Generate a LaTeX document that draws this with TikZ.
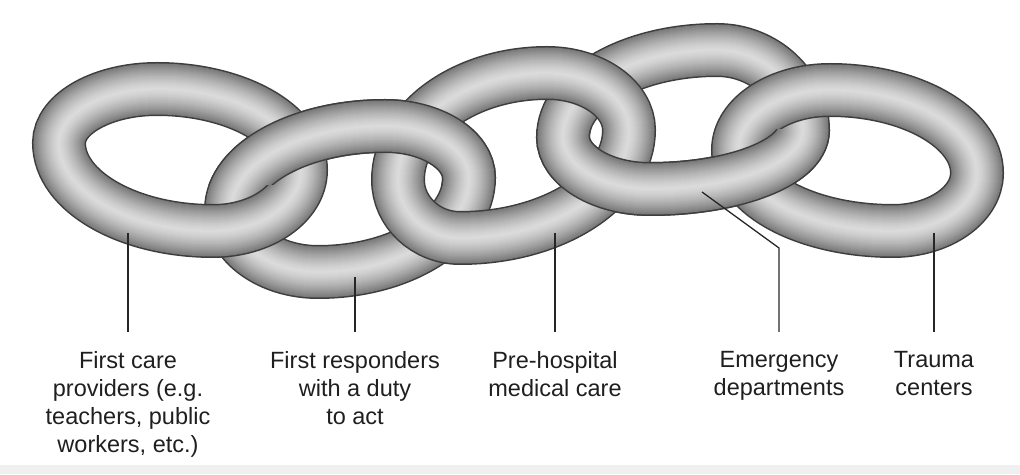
\documentclass[tikz,border=0pt]{standalone}
\usepackage{fontspec}
\setmainfont{Liberation Sans}
\usetikzlibrary{positioning}

% centre line of one link through its left, top, right and bottom points
\newcommand{\ringpath}[8]{%
  (#1,#2) .. controls (#1,{#2+0.55*(#4-#2)}) and ({#3-0.55*(#3-#1)},#4) .. (#3,#4)
  .. controls ({#3+0.55*(#5-#3)},#4) and (#5,{#6+0.55*(#4-#6)}) .. (#5,#6)
  .. controls (#5,{#6-0.55*(#6-#8)}) and ({#7+0.55*(#5-#7)},#8) .. (#7,#8)
  .. controls ({#7-0.55*(#7-#1)},#8) and (#1,{#2-0.55*(#2-#8)}) .. cycle}

% a link as a shaded tube
\newcommand{\drawring}[1]{%
  \draw[line width=54pt, black!76] #1;
  \foreach \w in {51,49,...,3}
    {\pgfmathsetmacro\tone{14+38*(\w/51)^1.4}
     \draw[line width=\w pt, black!\tone] #1;}}

\def\ringA{\ringpath{59}{331}{157}{385}{301}{304}{213}{243}}
\def\ringB{\ringpath{231}{264}{385}{348}{469}{296}{318}{202}}
\def\ringC{\ringpath{398}{294}{547}{401}{629}{344}{460}{236}}
\def\ringD{\ringpath{563}{337}{717}{424}{803}{344}{650}{285}}
\def\ringE{\ringpath{738}{324}{830}{384}{977}{301}{893}{243}}

\begin{document}
\begin{tikzpicture}[
        x=1pt, y=1pt,
        lbl/.style={
            anchor=north,
            inner sep=0pt,
            outer ysep=19pt,
            align=center,
            text=black!88,
            font=\fontsize{23.5pt}{28.3pt}\selectfont
        },
        pointer/.style={line width=1.3pt, black!85}
    ]
        \useasboundingbox (0,0) rectangle (1020,474);
        \fill[black!6] (0,0) rectangle (1020,9);

        % links 2 and 4 first, links 1, 3, 5 over them
        \drawring{\ringB}
        \drawring{\ringD}
        \drawring{\ringA}
        \drawring{\ringC}
        \drawring{\ringE}
        % parts of links 2 and 4 that pass in front
        \begin{scope}
            \clip (190,289) rectangle (510,414);
            \drawring{\ringB}
        \end{scope}
        \begin{scope}
            \clip (520,200) rectangle (860,344);
            \drawring{\ringD}
        \end{scope}

        % where the pointers touch the links
        \coordinate (tp1) at (128,241);
        \coordinate (tp2) at (355,197);
        \coordinate (tp3) at (555,241);
        \coordinate (tp4) at (702,282);
        \coordinate (bd4) at (779,226);
        \coordinate (tp5) at (934,241);

        % labels
        \node[lbl] (lb1) at (128,142) {First care\\providers (e.g.\\teachers, public\\workers, etc.)};
        \node[lbl] (lb2) at (355,142) {First responders\\with a duty\\to act};
        \node[lbl] (lb3) at (555,142) {Pre-hospital\\medical care};
        \node[lbl] (lb4) at (779,142) {Emergency\\departments};
        \node[lbl] (lb5) at (934,142) {Trauma\\centers};

        \draw[pointer] (tp1) -- (lb1.north);
        \draw[pointer] (tp2) -- (lb2.north);
        \draw[pointer] (tp3) -- (lb3.north);
        \draw[pointer] (tp4) -- (bd4) -- (lb4.north);
        \draw[pointer] (tp5) -- (lb5.north);
    \end{tikzpicture}
\end{document}
